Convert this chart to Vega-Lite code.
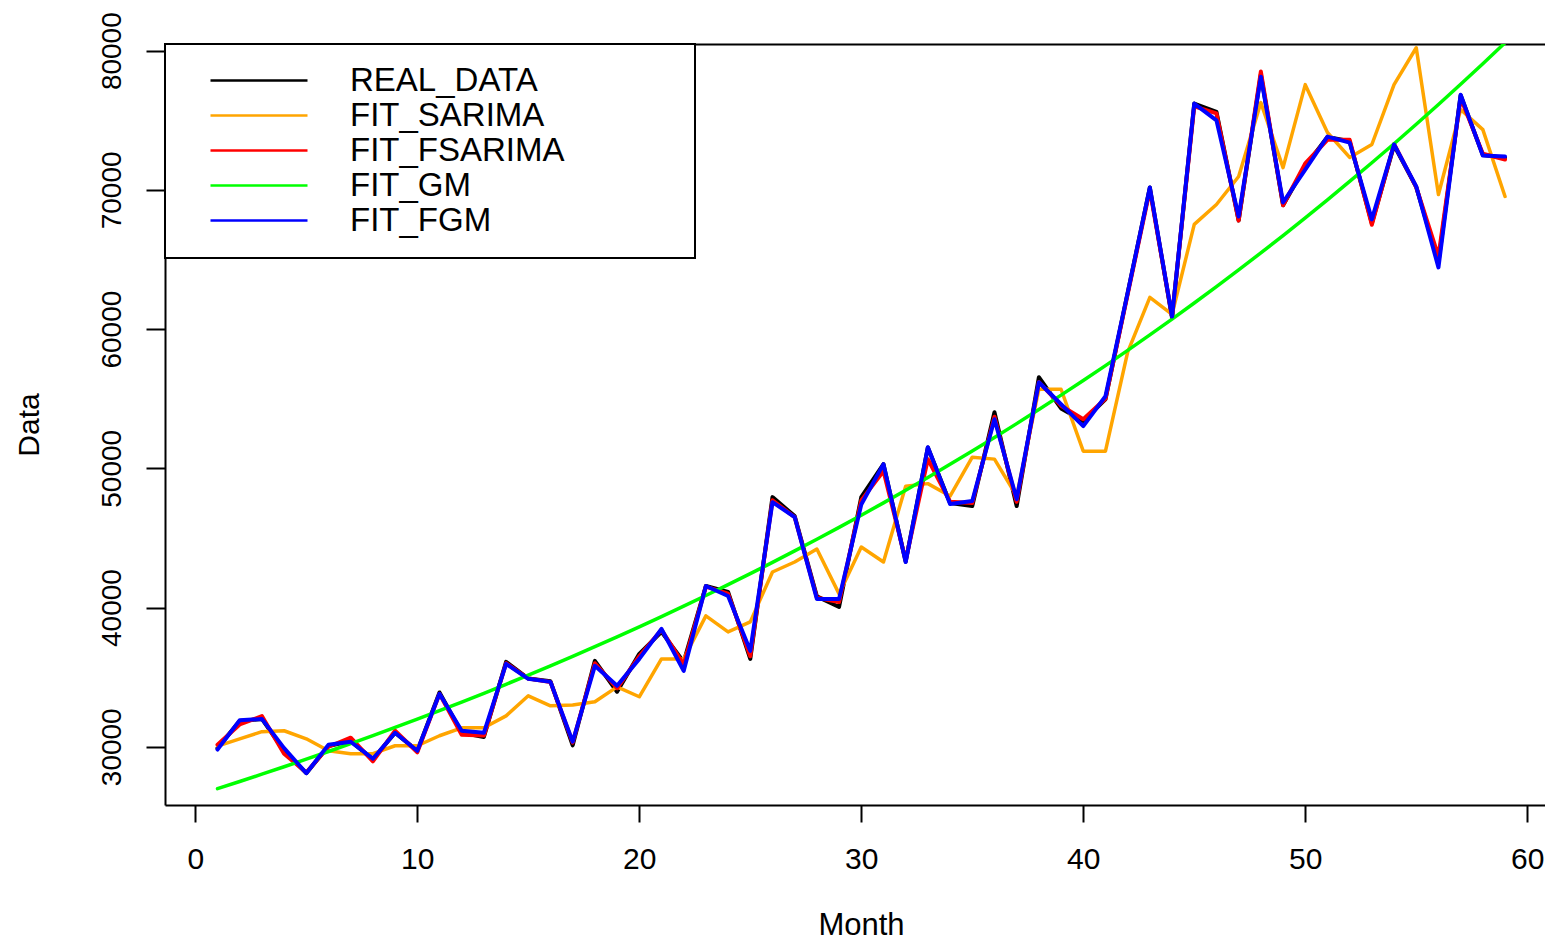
{
  "$schema": "https://vega.github.io/schema/vega-lite/v6.json",
  "width": 1380,
  "height": 761,
  "autosize": {"type": "none"},
  "padding": {"left": 165, "top": 44, "right": 0, "bottom": 139},
  "background": "white",
  "config": {
    "view": {"stroke": null},
    "font": "Liberation Sans",
    "axis": {"grid": false, "domainColor": "black", "domainWidth": 2, "tickColor": "black", "tickWidth": 2, "labelColor": "black", "titleColor": "black", "titleFontWeight": "normal", "labelFont": "Liberation Sans", "titleFont": "Liberation Sans"},
    "legend": {"labelFont": "Liberation Sans"}
  },
  "data": {
    "values": [
      {"Month": 1, "REAL_DATA": 29900, "FIT_SARIMA": 30050, "FIT_FSARIMA": 30150, "FIT_GM": 26990, "FIT_FGM": 29800},
      {"Month": 2, "REAL_DATA": 31850, "FIT_SARIMA": 30570, "FIT_FSARIMA": 31600, "FIT_GM": 27504, "FIT_FGM": 31900},
      {"Month": 3, "REAL_DATA": 32000, "FIT_SARIMA": 31080, "FIT_FSARIMA": 32200, "FIT_GM": 28028, "FIT_FGM": 32000},
      {"Month": 4, "REAL_DATA": 29700, "FIT_SARIMA": 31150, "FIT_FSARIMA": 29500, "FIT_GM": 28561, "FIT_FGM": 29900},
      {"Month": 5, "REAL_DATA": 28100, "FIT_SARIMA": 30570, "FIT_FSARIMA": 28150, "FIT_GM": 29105, "FIT_FGM": 28100},
      {"Month": 6, "REAL_DATA": 30050, "FIT_SARIMA": 29710, "FIT_FSARIMA": 30000, "FIT_GM": 29659, "FIT_FGM": 30140},
      {"Month": 7, "REAL_DATA": 30400, "FIT_SARIMA": 29500, "FIT_FSARIMA": 30650, "FIT_GM": 30223, "FIT_FGM": 30360},
      {"Month": 8, "REAL_DATA": 29100, "FIT_SARIMA": 29500, "FIT_FSARIMA": 28950, "FIT_GM": 30798, "FIT_FGM": 29140},
      {"Month": 9, "REAL_DATA": 31000, "FIT_SARIMA": 30070, "FIT_FSARIMA": 31150, "FIT_GM": 31384, "FIT_FGM": 31000},
      {"Month": 10, "REAL_DATA": 29700, "FIT_SARIMA": 30070, "FIT_FSARIMA": 29600, "FIT_GM": 31981, "FIT_FGM": 29710},
      {"Month": 11, "REAL_DATA": 33900, "FIT_SARIMA": 30790, "FIT_FSARIMA": 33800, "FIT_GM": 32590, "FIT_FGM": 33800},
      {"Month": 12, "REAL_DATA": 31000, "FIT_SARIMA": 31360, "FIT_FSARIMA": 30860, "FIT_GM": 33210, "FIT_FGM": 31150},
      {"Month": 13, "REAL_DATA": 30700, "FIT_SARIMA": 31360, "FIT_FSARIMA": 30800, "FIT_GM": 33842, "FIT_FGM": 31000},
      {"Month": 14, "REAL_DATA": 36100, "FIT_SARIMA": 32220, "FIT_FSARIMA": 36000, "FIT_GM": 34486, "FIT_FGM": 35950},
      {"Month": 15, "REAL_DATA": 34900, "FIT_SARIMA": 33660, "FIT_FSARIMA": 34900, "FIT_GM": 35142, "FIT_FGM": 34880},
      {"Month": 16, "REAL_DATA": 34700, "FIT_SARIMA": 32940, "FIT_FSARIMA": 34650, "FIT_GM": 35811, "FIT_FGM": 34660},
      {"Month": 17, "REAL_DATA": 30100, "FIT_SARIMA": 33000, "FIT_FSARIMA": 30300, "FIT_GM": 36493, "FIT_FGM": 30360},
      {"Month": 18, "REAL_DATA": 36170, "FIT_SARIMA": 33230, "FIT_FSARIMA": 36000, "FIT_GM": 37188, "FIT_FGM": 35810},
      {"Month": 19, "REAL_DATA": 33950, "FIT_SARIMA": 34300, "FIT_FSARIMA": 34200, "FIT_GM": 37896, "FIT_FGM": 34380},
      {"Month": 20, "REAL_DATA": 36670, "FIT_SARIMA": 33590, "FIT_FSARIMA": 36500, "FIT_GM": 38617, "FIT_FGM": 36310},
      {"Month": 21, "REAL_DATA": 38250, "FIT_SARIMA": 36310, "FIT_FSARIMA": 38400, "FIT_GM": 39352, "FIT_FGM": 38460},
      {"Month": 22, "REAL_DATA": 36100, "FIT_SARIMA": 36310, "FIT_FSARIMA": 35900, "FIT_GM": 40101, "FIT_FGM": 35450},
      {"Month": 23, "REAL_DATA": 41550, "FIT_SARIMA": 39400, "FIT_FSARIMA": 41500, "FIT_GM": 40864, "FIT_FGM": 41550},
      {"Month": 24, "REAL_DATA": 41120, "FIT_SARIMA": 38250, "FIT_FSARIMA": 41000, "FIT_GM": 41642, "FIT_FGM": 40830},
      {"Month": 25, "REAL_DATA": 36310, "FIT_SARIMA": 38970, "FIT_FSARIMA": 36500, "FIT_GM": 42435, "FIT_FGM": 36890},
      {"Month": 26, "REAL_DATA": 47930, "FIT_SARIMA": 42550, "FIT_FSARIMA": 47700, "FIT_GM": 43243, "FIT_FGM": 47570},
      {"Month": 27, "REAL_DATA": 46570, "FIT_SARIMA": 43270, "FIT_FSARIMA": 46500, "FIT_GM": 44066, "FIT_FGM": 46500},
      {"Month": 28, "REAL_DATA": 40800, "FIT_SARIMA": 44200, "FIT_FSARIMA": 40700, "FIT_GM": 44905, "FIT_FGM": 40620},
      {"Month": 29, "REAL_DATA": 40040, "FIT_SARIMA": 40980, "FIT_FSARIMA": 40400, "FIT_GM": 45760, "FIT_FGM": 40620},
      {"Month": 30, "REAL_DATA": 47930, "FIT_SARIMA": 44350, "FIT_FSARIMA": 47700, "FIT_GM": 46631, "FIT_FGM": 47400},
      {"Month": 31, "REAL_DATA": 50300, "FIT_SARIMA": 43270, "FIT_FSARIMA": 49800, "FIT_GM": 47519, "FIT_FGM": 50300},
      {"Month": 32, "REAL_DATA": 43300, "FIT_SARIMA": 48720, "FIT_FSARIMA": 43400, "FIT_GM": 48424, "FIT_FGM": 43270},
      {"Month": 33, "REAL_DATA": 51500, "FIT_SARIMA": 48900, "FIT_FSARIMA": 50660, "FIT_GM": 49346, "FIT_FGM": 51520},
      {"Month": 34, "REAL_DATA": 47500, "FIT_SARIMA": 48010, "FIT_FSARIMA": 47600, "FIT_GM": 50285, "FIT_FGM": 47430},
      {"Month": 35, "REAL_DATA": 47290, "FIT_SARIMA": 50800, "FIT_FSARIMA": 47500, "FIT_GM": 51242, "FIT_FGM": 47650},
      {"Month": 36, "REAL_DATA": 54030, "FIT_SARIMA": 50660, "FIT_FSARIMA": 53700, "FIT_GM": 52217, "FIT_FGM": 53530},
      {"Month": 37, "REAL_DATA": 47290, "FIT_SARIMA": 48010, "FIT_FSARIMA": 47600, "FIT_GM": 53211, "FIT_FGM": 47790},
      {"Month": 38, "REAL_DATA": 56540, "FIT_SARIMA": 55680, "FIT_FSARIMA": 56200, "FIT_GM": 54224, "FIT_FGM": 56180},
      {"Month": 39, "REAL_DATA": 54300, "FIT_SARIMA": 55680, "FIT_FSARIMA": 54500, "FIT_GM": 55256, "FIT_FGM": 54600},
      {"Month": 40, "REAL_DATA": 53400, "FIT_SARIMA": 51230, "FIT_FSARIMA": 53530, "FIT_GM": 56308, "FIT_FGM": 53030},
      {"Month": 41, "REAL_DATA": 54960, "FIT_SARIMA": 51230, "FIT_FSARIMA": 55000, "FIT_GM": 57380, "FIT_FGM": 55180},
      {"Month": 42, "REAL_DATA": 62600, "FIT_SARIMA": 58340, "FIT_FSARIMA": 62500, "FIT_GM": 58472, "FIT_FGM": 62600},
      {"Month": 43, "REAL_DATA": 70170, "FIT_SARIMA": 62280, "FIT_FSARIMA": 70000, "FIT_GM": 59585, "FIT_FGM": 70170},
      {"Month": 44, "REAL_DATA": 60800, "FIT_SARIMA": 61060, "FIT_FSARIMA": 60900, "FIT_GM": 60719, "FIT_FGM": 60900},
      {"Month": 45, "REAL_DATA": 76200, "FIT_SARIMA": 67520, "FIT_FSARIMA": 76000, "FIT_GM": 61875, "FIT_FGM": 76200},
      {"Month": 46, "REAL_DATA": 75600, "FIT_SARIMA": 68950, "FIT_FSARIMA": 75500, "FIT_GM": 63053, "FIT_FGM": 75000},
      {"Month": 47, "REAL_DATA": 67800, "FIT_SARIMA": 70960, "FIT_FSARIMA": 67800, "FIT_GM": 64253, "FIT_FGM": 68090},
      {"Month": 48, "REAL_DATA": 78300, "FIT_SARIMA": 76270, "FIT_FSARIMA": 78500, "FIT_GM": 65476, "FIT_FGM": 78130},
      {"Month": 49, "REAL_DATA": 68900, "FIT_SARIMA": 71600, "FIT_FSARIMA": 68900, "FIT_GM": 66722, "FIT_FGM": 69100},
      {"Month": 50, "REAL_DATA": 71700, "FIT_SARIMA": 77560, "FIT_FSARIMA": 71900, "FIT_GM": 67992, "FIT_FGM": 71460},
      {"Month": 51, "REAL_DATA": 73800, "FIT_SARIMA": 74120, "FIT_FSARIMA": 73600, "FIT_GM": 69286, "FIT_FGM": 73830},
      {"Month": 52, "REAL_DATA": 73500, "FIT_SARIMA": 72330, "FIT_FSARIMA": 73600, "FIT_GM": 70605, "FIT_FGM": 73400},
      {"Month": 53, "REAL_DATA": 67600, "FIT_SARIMA": 73260, "FIT_FSARIMA": 67500, "FIT_GM": 71949, "FIT_FGM": 67880},
      {"Month": 54, "REAL_DATA": 73200, "FIT_SARIMA": 77560, "FIT_FSARIMA": 73300, "FIT_GM": 73318, "FIT_FGM": 73260},
      {"Month": 55, "REAL_DATA": 70200, "FIT_SARIMA": 80210, "FIT_FSARIMA": 70200, "FIT_GM": 74714, "FIT_FGM": 70240},
      {"Month": 56, "REAL_DATA": 64800, "FIT_SARIMA": 69670, "FIT_FSARIMA": 65220, "FIT_GM": 76136, "FIT_FGM": 64430},
      {"Month": 57, "REAL_DATA": 76800, "FIT_SARIMA": 75770, "FIT_FSARIMA": 76600, "FIT_GM": 77585, "FIT_FGM": 76840},
      {"Month": 58, "REAL_DATA": 72500, "FIT_SARIMA": 74330, "FIT_FSARIMA": 72600, "FIT_GM": 79062, "FIT_FGM": 72470},
      {"Month": 59, "REAL_DATA": 72300, "FIT_SARIMA": 69530, "FIT_FSARIMA": 72180, "FIT_GM": 80567, "FIT_FGM": 72400}
    ]
  },
  "transform": [
    {"fold": ["REAL_DATA", "FIT_SARIMA", "FIT_FSARIMA", "FIT_GM", "FIT_FGM"], "as": ["series", "value"]}
  ],
  "encoding": {
    "y": {
      "field": "value", "type": "quantitative",
      "scale": {"domain": [25815, 80480], "nice": false, "zero": false},
      "axis": {"values": [30000, 40000, 50000, 60000, 70000, 80000], "labelAngle": -90, "labelFontSize": 28, "labelPadding": 20, "tickSize": 19, "title": "Data", "titleFontSize": 30, "titlePadding": 54, "format": "d"}
    },
    "color": {
      "field": "series", "type": "nominal",
      "scale": {"domain": ["REAL_DATA", "FIT_SARIMA", "FIT_FSARIMA", "FIT_GM", "FIT_FGM"], "range": ["#000000", "#FFA500", "#FF0000", "#00FF00", "#0000FF"]},
      "legend": {"orient": "none", "legendX": 0, "legendY": 0, "title": null, "padding": 20, "strokeColor": "black", "fillColor": "white", "symbolType": "M-4,0H4", "symbolSize": 588, "symbolStrokeWidth": 2.5, "symbolOffset": 57.5, "labelOffset": 74.5, "labelFontSize": 33, "labelColor": "black", "labelLimit": 1000, "rowPadding": 1, "labelExpr": "datum.label + '\u00a0\u00a0\u00a0\u00a0\u00a0\u00a0\u00a0\u00a0\u00a0\u00a0\u00a0\u00a0\u200b'",
        "encode": {"legend": {"update": {"strokeWidth": {"value": 2}}}}}
    }
  },
  "layer": [
    {
      "transform": [{"filter": "datum.series == 'REAL_DATA'"}],
      "mark": {"type": "line", "strokeWidth": 4, "clip": true, "strokeJoin": "round", "strokeCap": "round"},
      "encoding": {
        "x": {"field": "Month", "type": "quantitative", "scale": {"domain": [-1.365, 60.8], "nice": false, "zero": false},
              "axis": {"orient": "bottom", "values": [0, 10, 20, 30, 40, 50, 60], "labelFontSize": 30, "labelPadding": 22, "tickSize": 17, "labelFlush": false, "labelOverlap": false, "title": "Month", "titleFontSize": 31, "titlePadding": 36, "titleX": 696}}
      }
    },
    {
      "transform": [{"filter": "datum.series == 'FIT_SARIMA'"}],
      "mark": {"type": "line", "strokeWidth": 3.5, "clip": true, "strokeJoin": "round", "strokeCap": "round"},
      "encoding": {
        "x": {"field": "Month", "type": "quantitative", "scale": {"domain": [-1.365, 60.8], "nice": false, "zero": false},
              "axis": {"orient": "top", "labels": false, "ticks": false, "title": null, "domain": true}}
      }
    },
    {
      "transform": [{"filter": "datum.series == 'FIT_FSARIMA'"}],
      "mark": {"type": "line", "strokeWidth": 4, "clip": true, "strokeJoin": "round", "strokeCap": "round"},
      "encoding": {
        "x": {"field": "Month", "type": "quantitative", "scale": {"domain": [-1.365, 60.8], "nice": false, "zero": false}, "axis": null}
      }
    },
    {
      "transform": [{"filter": "datum.series == 'FIT_GM'"}],
      "mark": {"type": "line", "strokeWidth": 3.5, "clip": true, "strokeJoin": "round", "strokeCap": "round"},
      "encoding": {
        "x": {"field": "Month", "type": "quantitative", "scale": {"domain": [-1.365, 60.8], "nice": false, "zero": false}, "axis": null}
      }
    },
    {
      "transform": [{"filter": "datum.series == 'FIT_FGM'"}],
      "mark": {"type": "line", "strokeWidth": 4, "clip": true, "strokeJoin": "round", "strokeCap": "round"},
      "encoding": {
        "x": {"field": "Month", "type": "quantitative", "scale": {"domain": [-1.365, 60.8], "nice": false, "zero": false}, "axis": null}
      }
    }
  ],
  "resolve": {"axis": {"x": "independent"}}
}
